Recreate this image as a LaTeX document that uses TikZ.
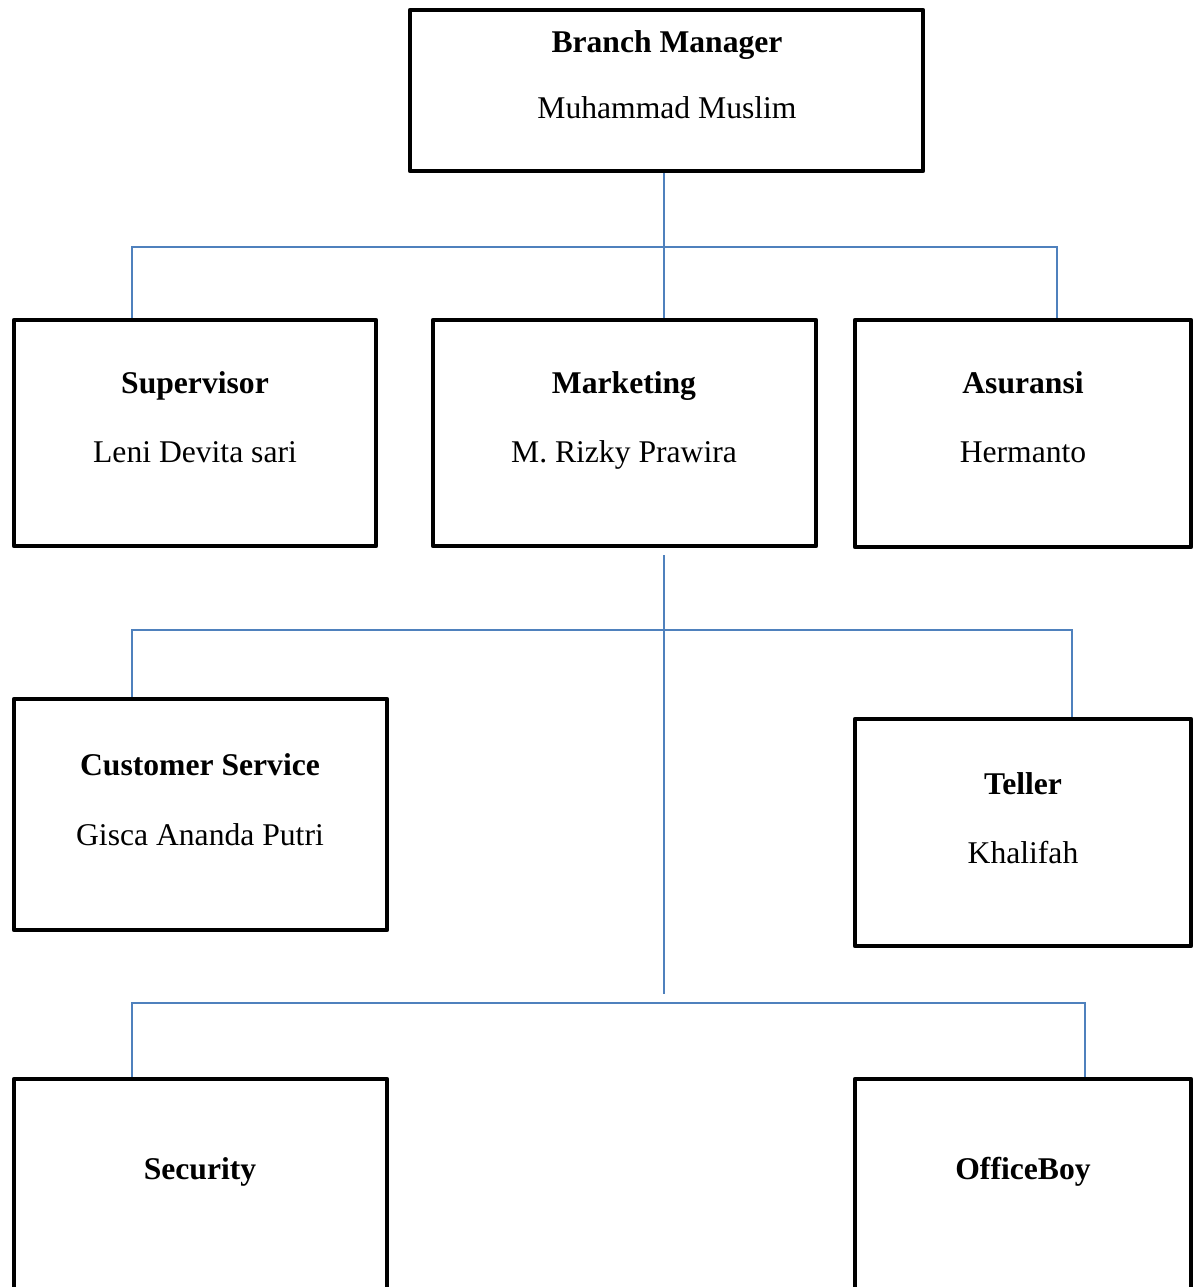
\documentclass[tikz,border=0pt]{standalone}
\usepackage{fontspec}
\setmainfont{Liberation Serif}
\usepackage{tikz}
\usetikzlibrary{calc,positioning}
\definecolor{linkblue}{RGB}{79,129,189}
\tikzset{
    unit/.style = {draw, rectangle, line width=0.09cm, line join=round, inner sep=0pt},
    post/.style = {font=\fontsize{18}{21}\selectfont\bfseries, inner sep=0pt, anchor=base},
    person/.style = {font=\fontsize{18}{21}\selectfont, inner sep=0pt, anchor=base},
    link/.style = {draw, linkblue, line width=0.03cm}
}

\begin{document}
\begin{tikzpicture}[x=0.02cm, y=-0.02cm]
                \useasboundingbox (0,0) rectangle (1200,1287);
                \clip (0,0) rectangle (1200,1287);
                % boxes
                \node[unit, minimum width=10.26cm, minimum height=3.22cm] (bm) at (666.5,90.5) {};
                \node[unit, minimum width=7.24cm, minimum height=4.52cm] (sup) at (195,433) {};
                \node[unit, minimum width=7.66cm, minimum height=4.52cm] (mkt) at (624.5,433) {};
                \node[unit, minimum width=6.72cm, minimum height=4.54cm] (asr) at (1023,433.5) {};
                \node[unit, minimum width=7.46cm, minimum height=4.62cm] (cs) at (200.5,814.5) {};
                \node[unit, minimum width=6.72cm, minimum height=4.54cm] (tel) at (1023,832.5) {};
                \node[unit, minimum width=7.46cm, minimum height=4.98cm] (sec) at (200.5,1203.5) {};
                \node[unit, minimum width=6.72cm, minimum height=4.98cm] (ob) at (1023,1203.5) {};
                % texts
                \node[post] (bmT) at (667,53) {Branch Manager};
                \node[person] (bmN) at (667,119) {Muhammad Muslim};
                \node[post] (supT) at (195,393) {Supervisor};
                \node[person] (supN) at (195,462) {Leni Devita sari};
                \node[post] (mktT) at (624,393) {Marketing};
                \node[person] (mktN) at (624,462) {M. Rizky Prawira};
                \node[post] (asrT) at (1023,393) {Asuransi};
                \node[person] (asrN) at (1023,462) {Hermanto};
                \node[post] (csT) at (200,775) {Customer Service};
                \node[person] (csN) at (200,845) {Gisca Ananda Putri};
                \node[post] (telT) at (1023,794) {Teller};
                \node[person] (telN) at (1023,863) {Khalifah};
                \node[post] (secT) at (200,1179) {Security};
                \node[post] (obT) at (1023,1179) {OfficeBoy};
                % connectors
                \coordinate (j1) at (664,247);
                \coordinate (j2) at (664,630);
                \coordinate (j3) at (664,1003);
                \coordinate (trunk) at (664,994);
                \draw[link] (bm.south -| j1) -- (mkt.north -| j1);
                \draw[link] (sup.north -| 132,0) |- (j1) -| (asr.north -| 1057,0);
                \draw[link] ([yshift=-0.14cm]mkt.south -| j2) -- (trunk);
                \draw[link] (cs.north -| 132,0) |- (j2) -| (tel.north -| 1072,0);
                \draw[link] (sec.north -| 132,0) |- (j3) -| (ob.north -| 1085,0);
            \end{tikzpicture}
\end{document}
